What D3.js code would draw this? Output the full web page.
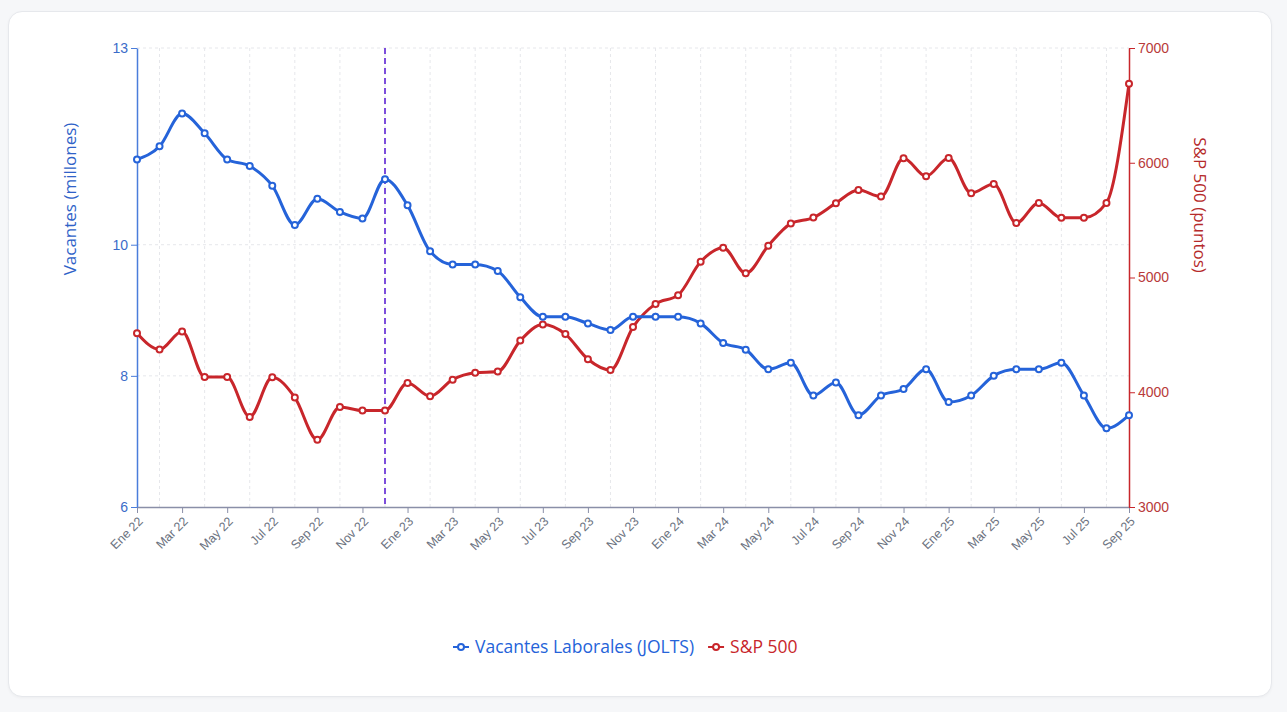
<!DOCTYPE html>
<html>
<head>
<meta charset="utf-8">
<script src="https://cdn.jsdelivr.net/npm/d3@7"></script>
<style>
  html, body { margin: 0; padding: 0; background: #f6f7f9; }
  body { width: 1287px; height: 712px; overflow: hidden; font-family: "Open Sans", "Noto Sans", sans-serif; }
  #card {
    position: absolute; left: 8px; top: 11px; width: 1262px; height: 684px;
    background: #fff; border: 1px solid #e6e8ec; border-radius: 14px;
    box-shadow: 0 1px 3px rgba(0,0,0,0.04);
  }
  #chart { position: absolute; left: 0; top: 0; }
</style>
</head>
<body>
<div id="card"></div>
<svg id="chart" width="1287" height="712"></svg>
<script>
// Datos
const months = [
  "Ene 22","Feb 22","Mar 22","Abr 22","May 22","Jun 22","Jul 22","Ago 22","Sep 22","Oct 22","Nov 22","Dic 22",
  "Ene 23","Feb 23","Mar 23","Abr 23","May 23","Jun 23","Jul 23","Ago 23","Sep 23","Oct 23","Nov 23","Dic 23",
  "Ene 24","Feb 24","Mar 24","Abr 24","May 24","Jun 24","Jul 24","Ago 24","Sep 24","Oct 24","Nov 24","Dic 24",
  "Ene 25","Feb 25","Mar 25","Abr 25","May 25","Jun 25","Jul 25","Ago 25","Sep 25"
];

// Vacantes laborales JOLTS (millones)
const jolts = [
  11.3, 11.5, 12.0, 11.7, 11.3, 11.2, 10.9, 10.3, 10.7, 10.5, 10.4, 11.0,
  10.6, 9.9, 9.7, 9.7, 9.6, 9.2, 8.9, 8.9, 8.8, 8.7, 8.9, 8.9,
  8.9, 8.8, 8.5, 8.4, 8.1, 8.2, 7.7, 7.9, 7.4, 7.7, 7.8, 8.1,
  7.6, 7.7, 8.0, 8.1, 8.1, 8.2, 7.7, 7.2, 7.4
];

// S&P 500 (puntos)
const sp500 = [
  4515, 4373, 4530, 4132, 4132, 3785, 4130, 3955, 3585, 3872, 3840, 3840,
  4080, 3965, 4110, 4169, 4180, 4450, 4590, 4507, 4288, 4194, 4568, 4770,
  4846, 5137, 5260, 5036, 5277, 5470, 5522, 5648, 5762, 5705, 6040, 5882,
  6041, 5735, 5815, 5475, 5650, 5520, 5520, 5650, 6688
];

const leftTicks = [6, 8, 10, 13];
const rightTicks = [3000, 4000, 5000, 6000, 7000];
const markerMonth = "Dic 22";

const blue = "#2563d9";
const red = "#c8262b";

const margin = { top: 48, left: 137, right: 1129, bottom: 507 };

const svg = d3.select("#chart");

const x = d3.scalePoint().domain(months).range([margin.left, margin.right]);
const yL = d3.scaleLinear().domain([6, 13]).range([margin.bottom, margin.top]);
const yR = d3.scaleLinear().domain([3000, 7000]).range([margin.bottom, margin.top]);

// Cuadrícula
const grid = svg.append("g").attr("stroke", "#e6e7eb").attr("stroke-dasharray", "3,3");
grid.selectAll("line.h")
  .data(leftTicks.filter((t) => t !== 6))
  .enter().append("line")
  .attr("x1", margin.left).attr("x2", margin.right)
  .attr("y1", (d) => yL(d)).attr("y2", (d) => yL(d));
grid.selectAll("line.v")
  .data(months.filter((m, i) => i % 2 === 1))
  .enter().append("line")
  .attr("x1", (d) => x(d)).attr("x2", (d) => x(d))
  .attr("y1", margin.top).attr("y2", margin.bottom);

// Línea de referencia
svg.append("line")
  .attr("x1", x(markerMonth)).attr("x2", x(markerMonth))
  .attr("y1", margin.top).attr("y2", margin.bottom)
  .attr("stroke", "#7c4ddb").attr("stroke-width", 2).attr("stroke-dasharray", "6,4");

// Ejes
const xAxis = svg.append("g")
  .attr("transform", `translate(0,${margin.bottom})`)
  .call(d3.axisBottom(x).tickValues(months.filter((m, i) => i % 2 === 0)).tickSize(6).tickSizeOuter(0));
xAxis.select(".domain").attr("stroke", "#8a8fa8").attr("stroke-width", 1.5);
xAxis.selectAll(".tick line").attr("stroke", "#8a8fa8");
xAxis.selectAll("text")
  .attr("fill", "#6b7280")
  .style("font-size", "12.5px")
  .style("text-anchor", "end")
  .attr("y", 0)
  .attr("dx", "0")
  .attr("dy", "0.35em")
  .attr("transform", "translate(3,12) rotate(-45)");

const leftAxis = svg.append("g")
  .attr("transform", `translate(${margin.left},0)`)
  .call(d3.axisLeft(yL).tickValues(leftTicks).tickFormat(d3.format("d")).tickSize(6).tickSizeOuter(0));
leftAxis.select(".domain").attr("stroke", "#4a7ddb").attr("stroke-width", 1.5);
leftAxis.selectAll(".tick line").attr("stroke", "#4a7ddb");
leftAxis.selectAll("text").attr("fill", "#3b6cc9").style("font-size", "14px");

const rightAxis = svg.append("g")
  .attr("transform", `translate(${margin.right},0)`)
  .call(d3.axisRight(yR).tickValues(rightTicks).tickFormat(d3.format("d")).tickSize(6).tickSizeOuter(0));
rightAxis.select(".domain").attr("stroke", "#c8262b").attr("stroke-width", 1.5);
rightAxis.selectAll(".tick line").attr("stroke", "#c8262b");
rightAxis.selectAll("text").attr("fill", "#b83a3a").style("font-size", "14px");

// Títulos de ejes
svg.append("text")
  .attr("transform", "translate(76,199) rotate(-90)")
  .attr("text-anchor", "middle")
  .attr("fill", "#2f62c8")
  .style("font-size", "17px")
  .text("Vacantes (millones)");

svg.append("text")
  .attr("transform", "translate(1194,205) rotate(90)")
  .attr("text-anchor", "middle")
  .attr("fill", "#b52a2a")
  .style("font-size", "17px")
  .text("S&P 500 (puntos)");

// Series
function drawSeries(values, yScale, color) {
  const line = d3.line()
    .x((d, i) => x(months[i]))
    .y((d) => yScale(d))
    .curve(d3.curveMonotoneX);
  svg.append("path")
    .datum(values)
    .attr("fill", "none")
    .attr("stroke", color)
    .attr("stroke-width", 3)
    .attr("d", line);
  svg.append("g").selectAll("circle")
    .data(values)
    .enter().append("circle")
    .attr("cx", (d, i) => x(months[i]))
    .attr("cy", (d) => yScale(d))
    .attr("r", 3)
    .attr("fill", "#fff")
    .attr("stroke", color)
    .attr("stroke-width", 2);
}
drawSeries(sp500, yR, red);
drawSeries(jolts, yL, blue);

// Leyenda
const legendItems = [
  { label: "Vacantes Laborales (JOLTS)", color: blue },
  { label: "S&P 500", color: red }
];
const legend = svg.append("g").attr("transform", "translate(0,647)");
let lx = 453;
legendItems.forEach((item) => {
  const g = legend.append("g").attr("transform", `translate(${lx},0)`);
  g.append("line").attr("x1", 0).attr("x2", 16).attr("stroke", item.color).attr("stroke-width", 2);
  g.append("circle").attr("cx", 8).attr("r", 3).attr("fill", "#fff").attr("stroke", item.color).attr("stroke-width", 2);
  const t = g.append("text")
    .attr("x", 22).attr("dy", "0.35em")
    .attr("fill", item.color)
    .style("font-size", "17.5px")
    .text(item.label);
  lx += 22 + t.node().getComputedTextLength() + 14;
});
</script>
</body>
</html>
